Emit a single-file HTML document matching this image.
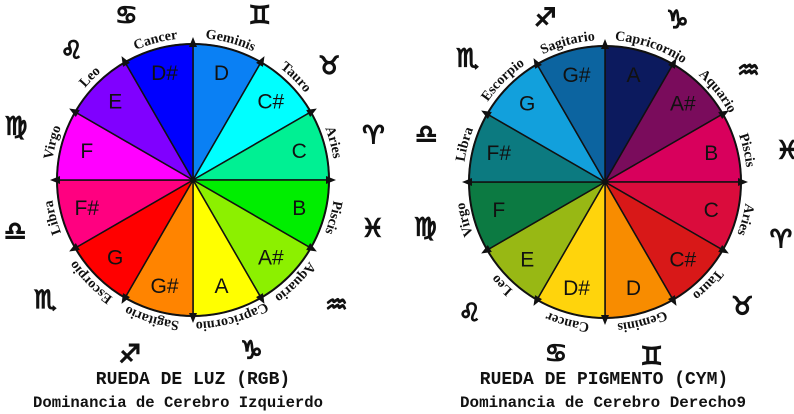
<!DOCTYPE html>
<html><head><meta charset="utf-8"><style>
html,body{margin:0;padding:0;background:#fff;width:794px;height:414px;overflow:hidden}
svg{display:block}
.n{font-family:"Liberation Sans",sans-serif;font-size:21px;fill:#111;text-anchor:middle;dominant-baseline:central}
.z{font-family:"Liberation Serif",serif;font-weight:bold;font-size:14px;fill:#111;text-anchor:middle}
.s{font-family:"DejaVu Sans",sans-serif;font-weight:bold;font-size:25px;fill:#111;stroke:#111;stroke-width:1.3;text-anchor:middle;dominant-baseline:central}
.t{font-family:"Liberation Mono",monospace;font-weight:bold;fill:#111;text-anchor:middle}
</style></head><body>
<svg width="794" height="414" viewBox="0 0 794 414" xmlns="http://www.w3.org/2000/svg">
<defs>
<path id="w" d="M0,0 L0,-136 A136,136 0 0,1 68,-117.78 Z"/>
<path id="c" d="M0,-142 A142,142 0 1,1 0,142 A142,142 0 1,1 0,-142"/>
<polygon id="tri" points="-4,-133 4,-133 0,-143" fill="#111"/>
</defs>

<!-- LEFT WHEEL -->
<g transform="translate(193,180)">
<g stroke="#111" stroke-width="1.5">
<use href="#w" fill="#0a80f4" transform="rotate(0)"/>
<use href="#w" fill="#00ffff" transform="rotate(30)"/>
<use href="#w" fill="#00f093" transform="rotate(60)"/>
<use href="#w" fill="#00ee00" transform="rotate(90)"/>
<use href="#w" fill="#8cf000" transform="rotate(120)"/>
<use href="#w" fill="#ffff00" transform="rotate(150)"/>
<use href="#w" fill="#ff8400" transform="rotate(180)"/>
<use href="#w" fill="#ff0000" transform="rotate(210)"/>
<use href="#w" fill="#ff0080" transform="rotate(240)"/>
<use href="#w" fill="#ff00ff" transform="rotate(270)"/>
<use href="#w" fill="#8000ff" transform="rotate(300)"/>
<use href="#w" fill="#0000ff" transform="rotate(330)"/>
</g>
<circle r="136" fill="none" stroke="#111" stroke-width="2"/>
<use href="#tri"/><use href="#tri" transform="rotate(30)"/><use href="#tri" transform="rotate(60)"/><use href="#tri" transform="rotate(90)"/><use href="#tri" transform="rotate(120)"/><use href="#tri" transform="rotate(150)"/><use href="#tri" transform="rotate(180)"/><use href="#tri" transform="rotate(210)"/><use href="#tri" transform="rotate(240)"/><use href="#tri" transform="rotate(270)"/><use href="#tri" transform="rotate(300)"/><use href="#tri" transform="rotate(330)"/>
<text class="n" transform="rotate(15) translate(0,-110) rotate(-15)">D</text>
<text class="n" transform="rotate(45) translate(0,-110) rotate(-45)">C#</text>
<text class="n" transform="rotate(75) translate(0,-110) rotate(-75)">C</text>
<text class="n" transform="rotate(105) translate(0,-110) rotate(-105)">B</text>
<text class="n" transform="rotate(135) translate(0,-110) rotate(-135)">A#</text>
<text class="n" transform="rotate(165) translate(0,-110) rotate(-165)">A</text>
<text class="n" transform="rotate(195) translate(0,-110) rotate(-195)">G#</text>
<text class="n" transform="rotate(225) translate(0,-110) rotate(-225)">G</text>
<text class="n" transform="rotate(255) translate(0,-110) rotate(-255)">F#</text>
<text class="n" transform="rotate(285) translate(0,-110) rotate(-285)">F</text>
<text class="n" transform="rotate(315) translate(0,-110) rotate(-315)">E</text>
<text class="n" transform="rotate(345) translate(0,-110) rotate(-345)">D#</text>
<text class="z"><textPath href="#c" startOffset="4.17%">Geminis</textPath></text>
<text class="z"><textPath href="#c" startOffset="12.5%">Tauro</textPath></text>
<text class="z"><textPath href="#c" startOffset="20.83%">Aries</textPath></text>
<text class="z"><textPath href="#c" startOffset="29.17%">Piscis</textPath></text>
<text class="z"><textPath href="#c" startOffset="37.5%">Aquario</textPath></text>
<text class="z"><textPath href="#c" startOffset="45.6%">Capricornio</textPath></text>
<text class="z"><textPath href="#c" startOffset="54.6%">Sagitario</textPath></text>
<text class="z"><textPath href="#c" startOffset="62.5%">Escorpio</textPath></text>
<text class="z"><textPath href="#c" startOffset="70.83%">Libra</textPath></text>
<text class="z"><textPath href="#c" startOffset="79.17%">Virgo</textPath></text>
<text class="z"><textPath href="#c" startOffset="87.5%">Leo</textPath></text>
<text class="z"><textPath href="#c" startOffset="95.83%">Cancer</textPath></text>
<text class="s" transform="rotate(22) translate(0,-178) rotate(-22)">♊&#xFE0E;</text>
<text class="s" transform="rotate(50) translate(0,-178) rotate(-50)">♉&#xFE0E;</text>
<text class="s" transform="rotate(76) translate(0,-186) rotate(-76)">♈&#xFE0E;</text>
<text class="s" transform="rotate(105) translate(0,-186) rotate(-105)">♓&#xFE0E;</text>
<text class="s" transform="rotate(131) translate(0,-190) rotate(-131)">♒&#xFE0E;</text>
<text class="s" transform="rotate(161) translate(0,-180) rotate(-161)">♑&#xFE0E;</text>
<text class="s" transform="rotate(200) translate(0,-185) rotate(-200)">♐&#xFE0E;</text>
<text class="s" transform="rotate(231) translate(0,-190) rotate(-231)">♏&#xFE0E;</text>
<text class="s" transform="rotate(254) translate(0,-185) rotate(-254)">♎&#xFE0E;</text>
<text class="s" transform="rotate(287) translate(0,-185) rotate(-287)">♍&#xFE0E;</text>
<text class="s" transform="rotate(317) translate(0,-178) rotate(-317)">♌&#xFE0E;</text>
<text class="s" transform="rotate(338) translate(0,-178) rotate(-338)">♋&#xFE0E;</text>
</g>
<text class="t" x="193" y="384" font-size="18">RUEDA DE LUZ (RGB)</text>
<text class="t" x="178" y="407" font-size="16" textLength="290" lengthAdjust="spacingAndGlyphs">Dominancia de Cerebro Izquierdo</text>

<!-- RIGHT WHEEL -->
<g transform="translate(605,182)">
<g stroke="#111" stroke-width="1.5">
<use href="#w" fill="#0c1a5e" transform="rotate(0)"/>
<use href="#w" fill="#7a0c5c" transform="rotate(30)"/>
<use href="#w" fill="#d8005c" transform="rotate(60)"/>
<use href="#w" fill="#da0c3c" transform="rotate(90)"/>
<use href="#w" fill="#d81818" transform="rotate(120)"/>
<use href="#w" fill="#f88c00" transform="rotate(150)"/>
<use href="#w" fill="#ffd40c" transform="rotate(180)"/>
<use href="#w" fill="#98b814" transform="rotate(210)"/>
<use href="#w" fill="#0c7a42" transform="rotate(240)"/>
<use href="#w" fill="#0c7a80" transform="rotate(270)"/>
<use href="#w" fill="#12a0dc" transform="rotate(300)"/>
<use href="#w" fill="#0c64a0" transform="rotate(330)"/>
</g>
<circle r="136" fill="none" stroke="#111" stroke-width="2"/>
<use href="#tri"/><use href="#tri" transform="rotate(30)"/><use href="#tri" transform="rotate(60)"/><use href="#tri" transform="rotate(90)"/><use href="#tri" transform="rotate(120)"/><use href="#tri" transform="rotate(150)"/><use href="#tri" transform="rotate(180)"/><use href="#tri" transform="rotate(210)"/><use href="#tri" transform="rotate(240)"/><use href="#tri" transform="rotate(270)"/><use href="#tri" transform="rotate(300)"/><use href="#tri" transform="rotate(330)"/>
<text class="n" transform="rotate(15) translate(0,-110) rotate(-15)">A</text>
<text class="n" transform="rotate(45) translate(0,-110) rotate(-45)">A#</text>
<text class="n" transform="rotate(75) translate(0,-110) rotate(-75)">B</text>
<text class="n" transform="rotate(105) translate(0,-110) rotate(-105)">C</text>
<text class="n" transform="rotate(135) translate(0,-110) rotate(-135)">C#</text>
<text class="n" transform="rotate(165) translate(0,-110) rotate(-165)">D</text>
<text class="n" transform="rotate(195) translate(0,-110) rotate(-195)">D#</text>
<text class="n" transform="rotate(225) translate(0,-110) rotate(-225)">E</text>
<text class="n" transform="rotate(255) translate(0,-110) rotate(-255)">F</text>
<text class="n" transform="rotate(285) translate(0,-110) rotate(-285)">F#</text>
<text class="n" transform="rotate(315) translate(0,-110) rotate(-315)">G</text>
<text class="n" transform="rotate(345) translate(0,-110) rotate(-345)">G#</text>
<text class="z"><textPath href="#c" startOffset="5.2%">Capricornio</textPath></text>
<text class="z"><textPath href="#c" startOffset="14.2%">Aquario</textPath></text>
<text class="z"><textPath href="#c" startOffset="21.5%">Piscis</textPath></text>
<text class="z"><textPath href="#c" startOffset="29.17%">Aries</textPath></text>
<text class="z"><textPath href="#c" startOffset="37.5%">Tauro</textPath></text>
<text class="z"><textPath href="#c" startOffset="45.83%">Geminis</textPath></text>
<text class="z"><textPath href="#c" startOffset="54.17%">Cancer</textPath></text>
<text class="z"><textPath href="#c" startOffset="62.5%">Leo</textPath></text>
<text class="z"><textPath href="#c" startOffset="70.83%">Virgo</textPath></text>
<text class="z"><textPath href="#c" startOffset="79.17%">Libra</textPath></text>
<text class="z"><textPath href="#c" startOffset="87.5%">Escorpio</textPath></text>
<text class="z"><textPath href="#c" startOffset="95.83%">Sagitario</textPath></text>
<text class="s" transform="rotate(24) translate(0,-178) rotate(-24)">♑&#xFE0E;</text>
<text class="s" transform="rotate(52) translate(0,-182) rotate(-52)">♒&#xFE0E;</text>
<text class="s" transform="rotate(80) translate(0,-185) rotate(-80)">♓&#xFE0E;</text>
<text class="s" transform="rotate(108) translate(0,-185) rotate(-108)">♈&#xFE0E;</text>
<text class="s" transform="rotate(132) translate(0,-185) rotate(-132)">♉&#xFE0E;</text>
<text class="s" transform="rotate(165) translate(0,-180) rotate(-165)">♊&#xFE0E;</text>
<text class="s" transform="rotate(196) translate(0,-178) rotate(-196)">♋&#xFE0E;</text>
<text class="s" transform="rotate(226) translate(0,-188) rotate(-226)">♌&#xFE0E;</text>
<text class="s" transform="rotate(256) translate(0,-185) rotate(-256)">♍&#xFE0E;</text>
<text class="s" transform="rotate(285) translate(0,-185) rotate(-285)">♎&#xFE0E;</text>
<text class="s" transform="rotate(312) translate(0,-185) rotate(-312)">♏&#xFE0E;</text>
<text class="s" transform="rotate(340) translate(0,-175) rotate(-340)">♐&#xFE0E;</text>
</g>
<text class="t" x="604" y="384" font-size="18">RUEDA DE PIGMENTO (CYM)</text>
<text class="t" x="603" y="407" font-size="16" textLength="286" lengthAdjust="spacingAndGlyphs">Dominancia de Cerebro Derecho9</text>
</svg>
</body></html>
